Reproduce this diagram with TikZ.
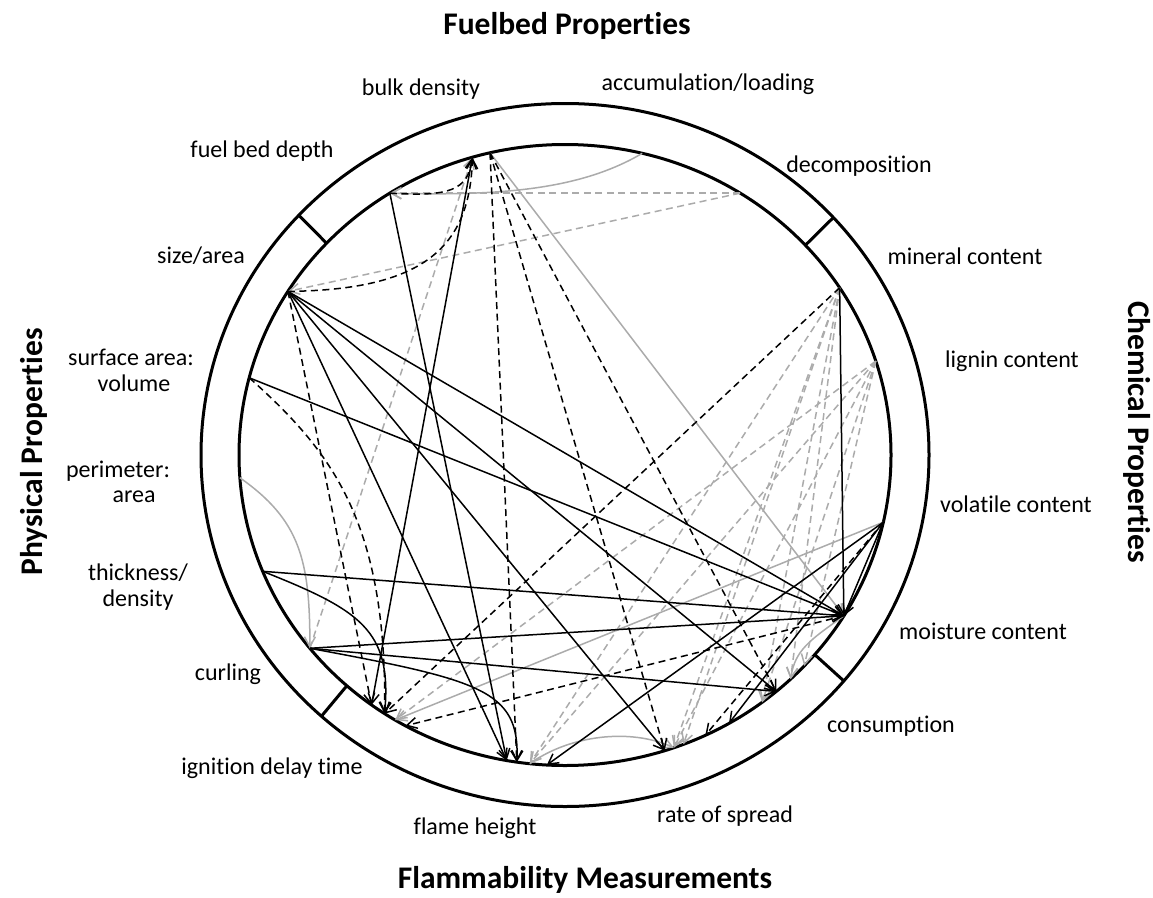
\documentclass[tikz,border=0pt]{standalone}
\usepackage{fontspec}
\setmainfont[Ligatures=NoCommon]{Carlito}
\usetikzlibrary{arrows.meta}
\newcommand\onring[2]{\coordinate (#1) at ({565+326*cos(#2)},{455+310.5*sin(#2)});}
\newcommand\divider[2]{%
  \coordinate (#1i) at ({565+326*cos(#2)},{455+310.5*sin(#2)});
  \coordinate (#1o) at ({565+364*cos(#2)},{455+351.5*sin(#2)});
  \draw[ringline] (#1i) -- (#1o);}
\tikzset{
  ringline/.style={draw=black, line width=3pt},
  tip/.style={-{Straight Barb[length=10pt,width=11pt]}},
  blk/.style={draw=black, line width=1.5pt, tip},
  blkd/.style={blk, dash pattern=on 7pt off 4.5pt},
  gry/.style={draw=black!33, line width=1.5pt, tip},
  gryd/.style={gry, dash pattern=on 7pt off 4.5pt},
  lbl/.style={font=\fontsize{24}{28}\selectfont, inner sep=0pt},
  ttl/.style={font=\fontsize{31.5}{36}\selectfont\bfseries, inner sep=0pt}
}
\begin{document}
\begin{tikzpicture}[x=1pt,y=-1pt]
\useasboundingbox (0,0) rectangle (1153,897);
% ring
\coordinate (ctr) at (565,455);
\draw[ringline] (ctr) ellipse [x radius=364pt, y radius=351.5pt];
\draw[ringline] (ctr) ellipse [x radius=326pt, y radius=310.5pt];
\divider{dA}{-137}
\divider{dB}{-42.5}
\divider{dC}{40}
\divider{dD}{132}
% endpoints on the inner ring
\onring{fdepth}{-122.5}
\onring{bulkA}{-106.5}
\onring{bulkB}{-103.3}
\onring{accum}{-76.3}
\onring{decomp}{-57.5}
\onring{sizea}{-148.2}
\onring{savol}{-165.6}
\onring{perim}{175.8}
\onring{thick}{158}
\onring{curl}{141.5}
\onring{ignA}{126.4}
\onring{ignB}{123.6}
\onring{ignC}{121.4}
\onring{ignD}{119.3}
\onring{flA}{100.3}
\onring{flB}{98.5}
\onring{flC}{96.2}
\onring{flD}{93.2}
\onring{rA}{72.2}
\onring{rB}{70.5}
\onring{rC}{68.7}
\onring{rD}{64.5}
\onring{cA}{59.8}
\onring{cB}{52.8}
\onring{cC}{49.6}
\onring{cD}{46.2}
\onring{cE}{42.8}
\onring{moist}{31.2}
\onring{volat}{12.5}
\onring{lign}{-17.6}
\onring{miner}{-32.6}
% gray dashed
\draw[gryd] (decomp) -- (fdepth);
\draw[gryd] (decomp) -- (sizea);
\draw[gryd] (curl) -- (bulkA);
\draw[gryd] (miner) -- (flC);
\draw[gryd] (miner) -- (rB);
\draw[gryd] (miner) -- (rC);
\draw[gryd] (miner) -- (cB);
\draw[gryd] (miner) -- (cD);
\draw[gryd] (lign) -- (ignC);
\draw[gryd] (lign) -- (flC);
\draw[gryd] (lign) -- (rB);
\draw[gryd] (lign) -- (cB);
\draw[gryd] (lign) -- (cE);
% gray solid
\draw[gry] (accum) .. controls (580,190) and (500,196) .. (fdepth);
\draw[gry] (perim) .. controls (300,520) and (310,560) .. (curl);
\draw[gry] (bulkB) -- (moist);
\draw[gry] (volat) -- (ignC);
\draw[gry] (flC) .. controls (570,735) and (630,728) .. (rB);
\draw[gry] (moist) .. controls (810,640) and (795,650) .. (cD);
% black dashed
\draw[blkd] (sizea) -- (ignA);
\draw[blkd] (sizea) .. controls (420,290) and (470,250) .. (bulkA);
\draw[blkd] (fdepth) .. controls (450,197) and (468,190) .. (bulkA);
\draw[blkd] (savol) .. controls (330,450) and (387,520) .. (ignB);
\draw[blkd] (bulkB) -- (flB);
\draw[blkd] (bulkB) -- (rA);
\draw[blkd] (bulkB) -- (cC);
\draw[blkd] (miner) -- (ignB);
\draw[blkd] (moist) -- (ignD);
\draw[blkd] (volat) -- (rD);
% black solid
\draw[blk] (sizea) -- (moist);
\draw[blk] (sizea) -- (cC);
\draw[blk] (sizea) -- (rA);
\draw[blk] (sizea) -- (flA);
\draw[blk] (savol) -- (moist);
\draw[blk] (thick) -- (moist);
\draw[blk] (thick) .. controls (360,610) and (392,630) .. (ignB);
\draw[blk] (curl) -- (moist);
\draw[blk] (curl) -- (cC);
\draw[blk] (curl) .. controls (480,680) and (520,690) .. (flB);
\draw[blk] (miner) -- (moist);
\draw[blk] (fdepth) -- (flA);
\draw[blk] (bulkA) -- (ignA);
\draw[blk] (volat) -- (flD);
\draw[blk] (volat) -- (cA);
\draw[blk] (volat) -- (moist);
% titles
\node[ttl] (tFuel) at (567,26) {Fuelbed Properties};
\node[ttl] (tFlam) at (585,880) {Flammability Measurements};
\node[ttl, rotate=90] (tPhys) at (34,452) {Physical Properties};
\node[ttl, rotate=-90] (tChem) at (1137,432) {Chemical Properties};
% labels
\node[lbl] (lbulk) at (421,89) {bulk density};
\node[lbl] (laccum) at (708,84) {accumulation/loading};
\node[lbl] (lfdepth) at (262,151) {fuel bed depth};
\node[lbl] (ldecomp) at (859,166) {decomposition};
\node[lbl] (lsize) at (201,256) {size/area};
\node[lbl] (lminer) at (965,256) {mineral content};
\node[lbl] (lsav1) at (131,357) {surface area:};
\node[lbl] (lsav2) at (134,383) {volume};
\node[lbl] (llign) at (1012,361) {lignin content};
\node[lbl] (lper1) at (118,471) {perimeter:};
\node[lbl] (lper2) at (134,497) {area};
\node[lbl] (lthk1) at (138,573) {thickness/};
\node[lbl] (lthk2) at (138,600) {density};
\node[lbl] (lvolat) at (1016,504) {volatile content};
\node[lbl] (lmoist) at (983,631) {moisture content};
\node[lbl] (lcurl) at (228,674) {curling};
\node[lbl] (lcons) at (891,726) {consumption};
\node[lbl] (lign2) at (272,768) {ignition delay time};
\node[lbl] (lflame) at (475,828) {flame height};
\node[lbl] (lrate) at (725,816) {rate of spread};
\end{tikzpicture}
\end{document}
